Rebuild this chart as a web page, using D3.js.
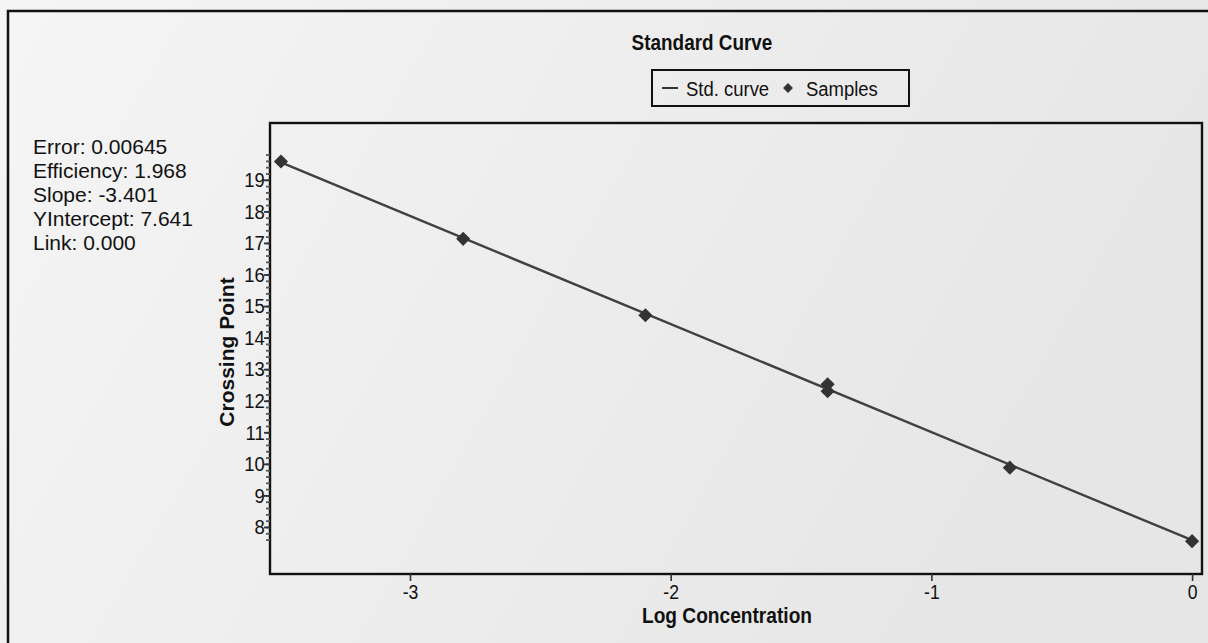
<!DOCTYPE html>
<html>
<head>
<meta charset="utf-8">
<script src="https://cdn.jsdelivr.net/npm/d3@7"></script>
<style>
  body { margin: 0; background: #efefef; }
  svg { display: block; }
  text { font-family: "Liberation Sans", Arial, sans-serif; fill: #111; }
</style>
</head>
<body>
<svg id="chart" width="1208" height="643"></svg>
<script>
/* Chart data */
const logConc = [-3.495, -2.796, -2.097, -1.398, -1.398, -0.699, 0];
const crossingPt = [19.58, 17.13, 14.71, 12.52, 12.3, 9.88, 7.55];
const curveX = [-3.495, 0];
const curveY = [19.55, 7.58];
const xTicks = [-3, -2, -1, 0];
const yTicks = [8, 9, 10, 11, 12, 13, 14, 15, 16, 17, 18, 19];
const statLines = ["Error: 0.00645", "Efficiency: 1.968", "Slope: -3.401", "YIntercept: 7.641", "Link: 0.000"];

let box = {left: 270, right: 1202, top: 123, bottom: 574};
const ink = "#333";

const svg = d3.select('#chart');

// squeezed text, the print uses a condensed face
function label(parent, x, y, txt, size, opts) {
    opts = opts || {};
    let t = parent.append('text')
        .attr('transform', `translate(${x},${y}) ${opts.rotate ? 'rotate(' + opts.rotate + ') ' : ''}scale(${opts.sx || 0.88},1)`)
        .attr('text-anchor', opts.anchor || 'start')
        .style('font-size', size + 'px')
        .text(txt);
    if (opts.bold) t.style('font-weight', 'bold');
    return t;
}

// paper background
const grad = svg.append('defs').append('linearGradient')
    .attr('id', 'paper').attr('x1', 0).attr('y1', 0).attr('x2', 1).attr('y2', 0.3);
grad.append('stop').attr('offset', 0).attr('stop-color', '#f5f5f5');
grad.append('stop').attr('offset', 1).attr('stop-color', '#e6e6e6');
svg.append('rect').attr('width', 1208).attr('height', 643).attr('fill', 'url(#paper)');

// outer frame
svg.append('path')
   .attr('d', 'M8,643 L8,11 L1208,11')
   .attr('fill', 'none').attr('stroke', '#111').attr('stroke-width', 2.5);

const xScale = d3.scaleLinear().domain([-3.537, 0.038]).range([box.left, box.right]);
const yScale = d3.scaleLinear().domain([6.51, 20.8]).range([box.bottom, box.top]);

// title + legend
label(svg, 702, 50, 'Standard Curve', 22, {anchor: 'middle', bold: true, sx: 0.86});

const legend = svg.append('g').attr('transform', 'translate(652,70)');
legend.append('rect').attr('width', 257).attr('height', 36)
      .attr('fill', 'none').attr('stroke', '#111').attr('stroke-width', 2);
legend.append('line').attr('x1', 10).attr('x2', 26).attr('y1', 18).attr('y2', 18)
      .attr('stroke', ink).attr('stroke-width', 2);
label(legend, 34, 26, 'Std. curve', 21);
legend.append('rect').attr('x', -3.5).attr('y', -3.5).attr('width', 7).attr('height', 7)
      .attr('transform', 'translate(136,18) rotate(45)').attr('fill', ink);
label(legend, 154, 26, 'Samples', 21);

// stats text
statLines.forEach((s, i) => label(svg, 33, 154 + i * 24, s, 21, {sx: 1}));

// plot box
svg.append('rect')
   .attr('x', box.left).attr('y', box.top)
   .attr('width', box.right - box.left).attr('height', box.bottom - box.top)
   .attr('fill', 'none').attr('stroke', '#111').attr('stroke-width', 2.4);

// y axis: minor + major ticks
const yMinor = d3.range(38, 100).map(v => v / 5);
svg.append('g')
   .attr('transform', `translate(${box.left},0)`)
   .call(d3.axisLeft(yScale).tickValues(yMinor).tickSize(4).tickFormat(''))
   .call(g => g.select('.domain').remove())
   .selectAll('line').attr('stroke', '#555').attr('stroke-width', 1.8);

const yAxis = svg.append('g')
   .attr('transform', `translate(${box.left},0)`)
   .call(d3.axisLeft(yScale).tickValues(yTicks).tickSize(6).tickPadding(0))
   .call(g => g.select('.domain').remove());
yAxis.selectAll('line').attr('stroke', '#333').attr('stroke-width', 1.8);
yAxis.selectAll('text')
   .style('font-size', '21px').style('font-family', null)
   .attr('transform', 'scale(0.88,1)');

// x axis
const xAxis = svg.append('g')
   .attr('transform', `translate(0,${box.bottom})`)
   .call(d3.axisBottom(xScale).tickValues(xTicks).tickSize(7).tickPadding(4).tickFormat(d => String(d)))
   .call(g => g.select('.domain').remove());
xAxis.selectAll('line').attr('stroke', '#333').attr('stroke-width', 1.6);
xAxis.selectAll('text')
   .style('font-size', '20px').style('font-family', null)
   .attr('transform', 'scale(0.88,1)');

// axis titles
label(svg, 727, 623, 'Log Concentration', 22, {anchor: 'middle', bold: true, sx: 0.87});
label(svg, 234, 352, 'Crossing Point', 21, {anchor: 'middle', bold: true, rotate: -90, sx: 1});

// std curve line
const curve = curveX.map((x, i) => [x, curveY[i]]);
svg.append('path')
   .datum(curve)
   .attr('d', d3.line().x(d => xScale(d[0])).y(d => yScale(d[1])))
   .attr('fill', 'none').attr('stroke', '#404040').attr('stroke-width', 2.4);

// samples
svg.selectAll('.pt')
   .data(logConc.map((x, i) => [x, crossingPt[i]]))
   .enter()
   .append('rect')
   .classed('pt', true)
   .attr('x', -5).attr('y', -5).attr('width', 10).attr('height', 10)
   .attr('transform', d => `translate(${xScale(d[0])},${yScale(d[1])}) rotate(45)`)
   .attr('fill', ink);
</script>
</body>
</html>
